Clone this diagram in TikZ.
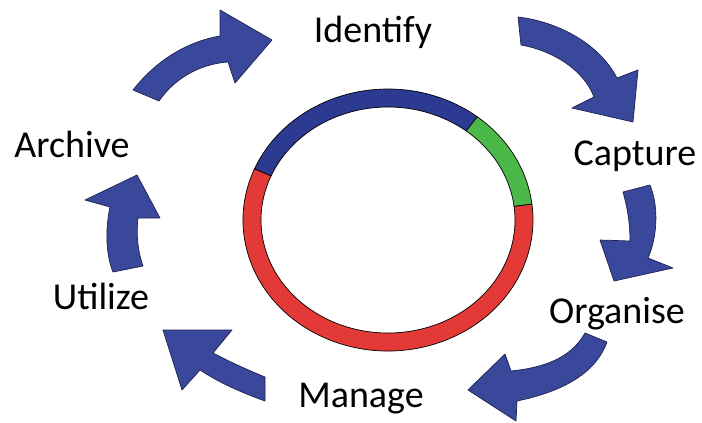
\documentclass[tikz,border=0pt]{standalone}
\usepackage{fontspec}
\setmainfont{Carlito}
\definecolor{arrowblue}{RGB}{58,72,155}
\definecolor{ringblue}{RGB}{45,58,145}
\definecolor{ringred}{RGB}{228,58,55}
\definecolor{ringgreen}{RGB}{76,184,74}
\definecolor{edgedark}{RGB}{30,34,80}
\tikzset{
  blockarrow/.style={fill=arrowblue, draw=edgedark, line width=0.7pt, line join=round},
  ringseg/.style={draw=black, line width=0.7pt},
  lbl/.style={font=\fontsize{38}{40}\selectfont, inner sep=0pt, anchor=base, text=black}
}
\newcommand{\myringsector}[3]{%
  \path[ringseg, fill=#3] (#1:145pt and 131pt) arc[start angle=#1, end angle=#2, x radius=145, y radius=131]
    -- (#2:127pt and 113pt) arc[start angle=#2, end angle=#1, x radius=127, y radius=113] -- cycle;}
\begin{document}
\begin{tikzpicture}[x=1pt,y=1pt]
\useasboundingbox[fill=white] (0,0) rectangle (702,-423);
% ring
\begin{scope}[shift={(388,-220)}]
  \myringsector{157}{367}{ringred}
  \myringsector{52}{157}{ringblue}
  \myringsector{7}{52}{ringgreen}
\end{scope}
% labels
\node[lbl] (identify) at (373,-42) {Identify};
\node[lbl] (capture) at (635,-165) {Capture};
\node[lbl] (organise) at (617,-323) {Organise};
\node[lbl] (manage) at (361,-407) {Manage};
\node[lbl] (utilize) at (101,-309) {Utilize};
\node[lbl] (archive) at (72,-157) {Archive};
% arrow Archive -> Identify
\path[blockarrow] (133,-90) .. controls (155,-62) and (185,-42) .. (220,-36)
  -- (220,-10) -- (272,-40) -- (235,-83) -- (228,-62)
  .. controls (200,-64) and (175,-78) .. (159,-101) -- cycle;
% arrow Identify -> Capture
\path[blockarrow] (518,-17) .. controls (560,-22) and (600,-45) .. (617,-78)
  -- (638,-70) -- (633,-122) -- (572,-108) -- (594,-97)
  .. controls (583,-68) and (550,-50) .. (521,-45) -- cycle;
% arrow Capture -> Organise
\path[blockarrow] (623,-192) .. controls (628,-210) and (630,-225) .. (630,-241)
  -- (600,-240) -- (614,-281) -- (673,-268) -- (648,-258)
  .. controls (656,-240) and (660,-210) .. (650,-185) -- cycle;
% arrow Organise -> Manage
\path[blockarrow] (585,-333) .. controls (570,-360) and (540,-368) .. (511,-371)
  -- (505,-354) -- (468,-390) -- (516,-421) -- (517,-401)
  .. controls (560,-392) and (595,-375) .. (607,-342) -- cycle;
% arrow Manage -> Utilize
\path[blockarrow] (163,-330) -- (232,-330) -- (213,-353)
  .. controls (230,-362) and (248,-370) .. (265,-377) -- (265,-401)
  .. controls (240,-392) and (218,-382) .. (200,-370) -- (182,-390) -- cycle;
% arrow Utilize -> Archive
\path[blockarrow] (137,-175) -- (160,-218) -- (138,-218)
  .. controls (136,-235) and (138,-252) .. (143,-266) -- (113,-272)
  .. controls (106,-255) and (105,-230) .. (110,-207) -- (85,-200) -- cycle;
\end{tikzpicture}
\end{document}
